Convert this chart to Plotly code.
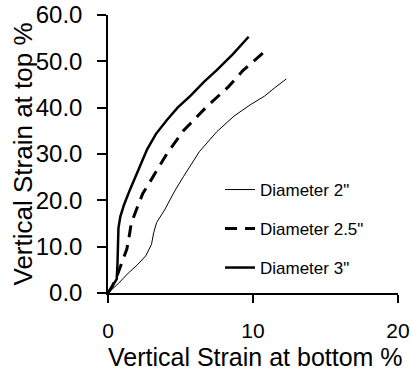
import plotly.graph_objects as go

# Diameter 2"
x_d2 = [0, 0.7, 1.4, 2.0, 2.6, 3.0, 3.15, 3.35, 3.9, 4.6, 5.2, 6.3, 7.5, 8.7, 9.8, 10.8, 11.5, 12.3]
y_d2 = [0, 2.0, 4.3, 6.0, 8.0, 10.5, 13.0, 15.2, 17.9, 22.0, 25.1, 30.5, 34.8, 38.2, 40.6, 42.5, 44.3, 46.2]
# Diameter 2.5"
x_d25 = [0, 0.3, 0.6, 0.85, 1.1, 1.3, 1.45, 1.6, 1.9, 2.4, 2.8, 3.5, 4.05, 5.2, 6.8, 8.3, 9.3, 10.9]
y_d25 = [0, 1.5, 3.5, 5.5, 7.5, 9.5, 12.0, 15.0, 17.5, 21.5, 23.5, 27.0, 30.0, 35.0, 40.2, 44.5, 48.0, 52.4]
# Diameter 3"
x_d3 = [0, 0.3, 0.6, 0.65, 0.68, 0.72, 0.85, 1.1, 1.5, 2.0, 2.7, 3.3, 4.05, 4.8, 5.7, 6.6, 7.5, 8.6, 9.7]
y_d3 = [0, 1.5, 3.0, 6.0, 10.0, 14.0, 16.5, 19.0, 22.2, 26.0, 31.0, 34.3, 37.3, 40.0, 42.6, 45.5, 48.1, 51.5, 55.3]

names = ['Diameter 2"', 'Diameter 2.5"', 'Diameter 3"']
x_ticks = [0, 10, 20]
y_ticks = [0, 10, 20, 30, 40, 50, 60]
x_title = "Vertical Strain at bottom %"
y_title = "Vertical Strain at top %"

FONT = "Liberation Sans, Arial, sans-serif"

fig = go.Figure()
fig.add_trace(go.Scatter(x=x_d2, y=y_d2, mode="lines", name=names[0],
                         line=dict(color="black", width=1), legend="legend"))
fig.add_trace(go.Scatter(x=x_d25, y=y_d25, mode="lines", name=names[1],
                         line=dict(color="black", width=3, dash="12px,8px"), legend="legend2"))
fig.add_trace(go.Scatter(x=x_d3, y=y_d3, mode="lines", name=names[2],
                         line=dict(color="black", width=2.5), legend="legend3"))

leg_common = dict(font=dict(family=FONT, size=17, color="black"), bgcolor="rgba(0,0,0,0)",
                  xanchor="left", yanchor="middle", borderwidth=0)
PW = 290.0
PH = 278.0
lx = (220 - 108) / PW
def ly(py):
    return (293 - py) / PH

fig.update_layout(
    width=412, height=372,
    margin=dict(l=108, r=14, t=15, b=79),
    paper_bgcolor="white", plot_bgcolor="white",
    font=dict(family=FONT, color="black"),
    showlegend=True,
    legend=dict(x=lx, y=ly(190), **leg_common),
    legend2=dict(x=lx, y=ly(229), **leg_common),
    legend3=dict(x=lx, y=ly(268), **leg_common),
    xaxis=dict(range=[0, 20], tickvals=x_ticks, ticktext=[str(v) for v in x_ticks],
               showgrid=False, zeroline=False, showline=True, linecolor="black", linewidth=1.5,
               ticks="outside", ticklen=8, tickwidth=1.5, tickcolor="black",
               tickfont=dict(family=FONT, size=21, color="black"), ticklabelstandoff=10,
               automargin=False),
    yaxis=dict(range=[0, 60], tickvals=y_ticks, ticktext=[f"{v:.1f}" for v in y_ticks],
               showgrid=False, zeroline=False, showline=True, linecolor="black", linewidth=1.5,
               ticks="outside", ticklen=9, tickwidth=1.5, tickcolor="black",
               tickfont=dict(family=FONT, size=24, color="black"), ticklabelstandoff=10,
               automargin=False),
    annotations=[
        dict(text=x_title, xref="paper", yref="paper", x=(255 - 108) / PW, y=(293 - 357) / PH,
             xanchor="center", yanchor="middle", showarrow=False,
             font=dict(family=FONT, size=25, color="black")),
        dict(text=y_title, xref="paper", yref="paper", x=(22.5 - 108) / PW, y=(293 - 154) / PH,
             xanchor="center", yanchor="middle", showarrow=False, textangle=-90,
             font=dict(family=FONT, size=26, color="black")),
    ],
)

fig.write_html("out.html")
